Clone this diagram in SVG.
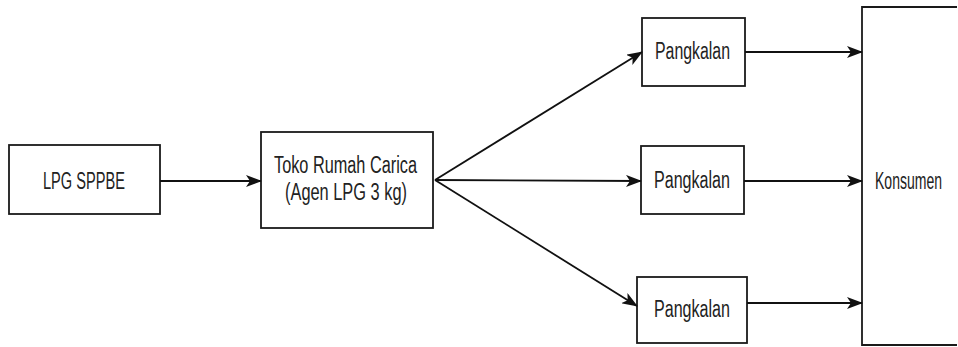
<svg xmlns="http://www.w3.org/2000/svg" width="958" height="347" viewBox="0 0 958 347">
<style>
.box{fill:#fff;stroke:#1a1a1a;stroke-width:1.8}
.lbl{font-family:"Liberation Sans",Arial,sans-serif;font-size:23px;fill:#222}
.edge{stroke:#111;stroke-width:1.8;fill:none;marker-end:url(#ah)}
</style>
<defs>
<marker id="ah" viewBox="0 0 16 12" refX="15" refY="6" markerWidth="16" markerHeight="12" markerUnits="userSpaceOnUse" orient="auto">
<path d="M0,0 L16,6 L0,12 L4,6 Z" fill="#111"/>
</marker>
</defs>
<rect width="958" height="347" fill="#fff"/>
<g id="lpg">
<rect class="box" x="9" y="145" width="151" height="69"/>
<text class="lbl" x="43" y="189" textLength="82" lengthAdjust="spacingAndGlyphs">LPG SPPBE</text>
</g>
<g id="toko">
<rect class="box" x="261" y="132" width="172" height="96"/>
<text class="lbl" x="274" y="173" textLength="143" lengthAdjust="spacingAndGlyphs">Toko Rumah Carica</text>
<text class="lbl" x="285" y="200" textLength="122" lengthAdjust="spacingAndGlyphs">(Agen LPG 3 kg)</text>
</g>
<g id="pangkalan1">
<rect class="box" x="642" y="18" width="103" height="68"/>
<text class="lbl" x="655" y="59" textLength="75" lengthAdjust="spacingAndGlyphs">Pangkalan</text>
</g>
<g id="pangkalan2">
<rect class="box" x="641" y="146" width="103" height="68"/>
<text class="lbl" x="654" y="188" textLength="76" lengthAdjust="spacingAndGlyphs">Pangkalan</text>
</g>
<g id="pangkalan3">
<rect class="box" x="637" y="277" width="110" height="66"/>
<text class="lbl" x="654" y="317" textLength="76" lengthAdjust="spacingAndGlyphs">Pangkalan</text>
</g>
<g id="konsumen">
<path d="M957,7 H862 V345 H957" fill="#fff" stroke="#1a1a1a" stroke-width="1.8"/>
<text class="lbl" x="875" y="189" textLength="67" lengthAdjust="spacingAndGlyphs">Konsumen</text>
</g>
<g id="connectors">
<line class="edge" x1="160" y1="181" x2="261" y2="181"/>
<line class="edge" x1="435" y1="180" x2="642" y2="52"/>
<line class="edge" x1="435" y1="180" x2="641" y2="181"/>
<line class="edge" x1="435" y1="180" x2="637" y2="306"/>
<line class="edge" x1="745" y1="52" x2="862" y2="52"/>
<line class="edge" x1="744" y1="181" x2="862" y2="181"/>
<line class="edge" x1="747" y1="303" x2="862" y2="303"/>
</g>
</svg>
